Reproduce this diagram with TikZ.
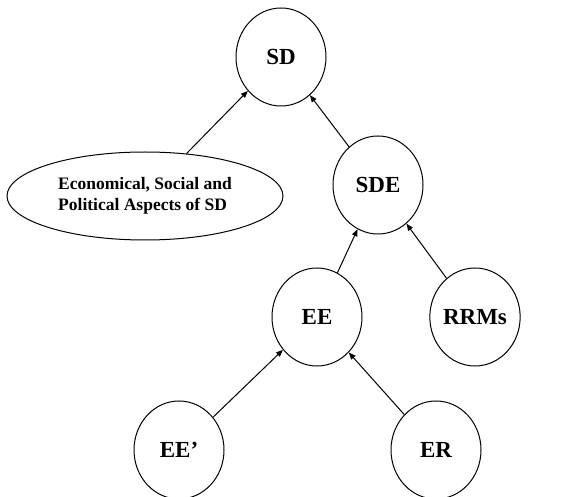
\documentclass[tikz,border=0pt]{standalone}
\usepackage{fontspec}
\setmainfont{Liberation Serif}
\usetikzlibrary{arrows.meta,shapes.geometric}

\begin{document}
\begin{tikzpicture}[x=1pt,y=-1pt]
            \useasboundingbox (0,0) rectangle (579,497);
            \tikzset{
                bubble/.style={draw,ellipse,line width=1pt,minimum width=90pt,
                    minimum height=98pt,inner sep=0pt,font=\fontsize{23}{26}\bfseries},
                link/.style={line width=1pt,-{Triangle[length=7pt,width=5.5pt]}}
            }
            \foreach \name/\x/\y/\text in {sd/281/57/SD, sde/378/185/SDE,
            ee/317/317/EE, rrm/475/317/RRMs, eep/179/450/EE', er/436/450/ER}
            {
                \node[bubble] (\name) at (\x,\y) {\text};
            }
            \node[draw,ellipse,line width=1pt,minimum width=276pt,minimum height=88pt,
                inner sep=0pt,align=left,font=\fontsize{17.5}{21}\bfseries]
                (asp) at (145,196) {Economical, Social and\\Political Aspects of SD};
            \foreach \from/\to in {asp/sd, sde/sd, ee/sde, rrm/sde, eep/ee, er/ee}
            {
                \draw[link] (\from) -- (\to);
            }
        \end{tikzpicture}
\end{document}
